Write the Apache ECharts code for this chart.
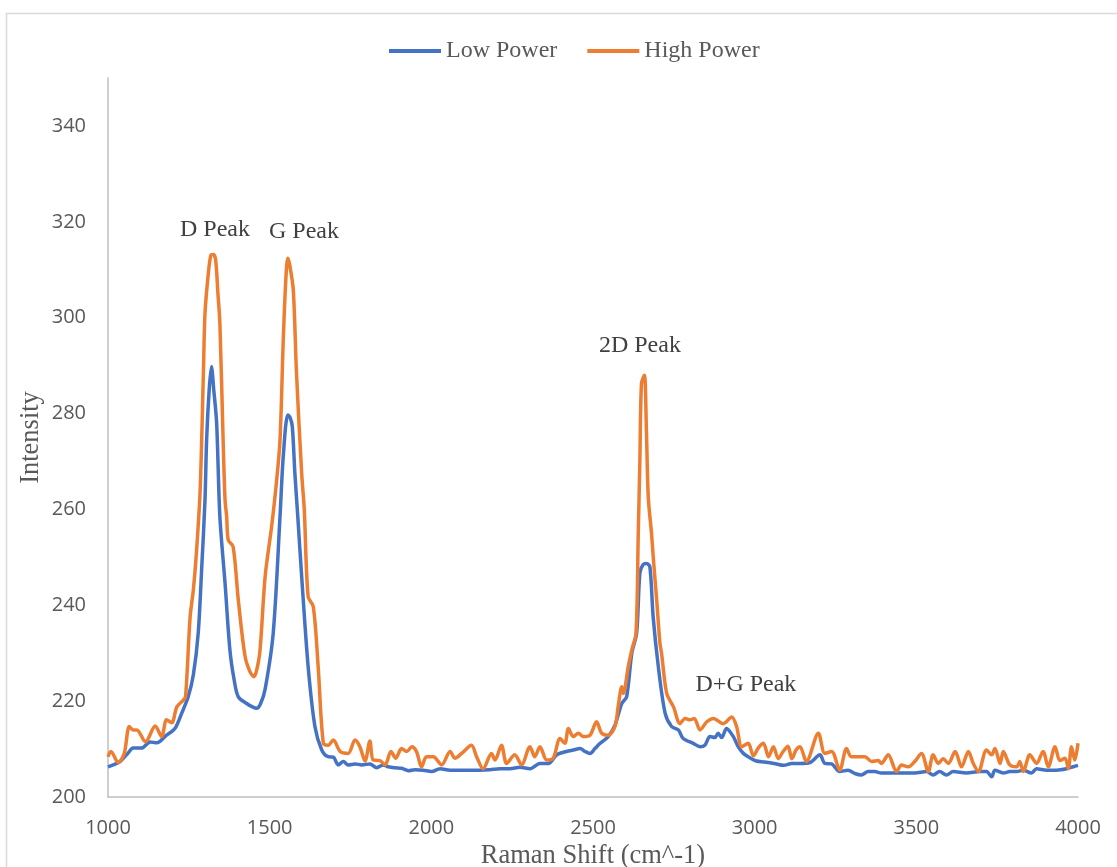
<!DOCTYPE html>
<html>
<head>
<meta charset="utf-8">
<title>Raman</title>
<script src="https://cdn.jsdelivr.net/npm/echarts@6/dist/echarts.min.js"></script>
<style>
  html, body { margin: 0; padding: 0; background: #fff; }
  #chart { width: 1117px; height: 867px; }
</style>
</head>
<body>
<div id="chart"></div>
<script>
// Low Power curve (Raman shift, intensity)
var lowShift = [
  1000, 1020, 1037, 1060, 1078, 1104, 1130, 1151, 1181, 1207,
  1228, 1248, 1264, 1279, 1290, 1300, 1305, 1313, 1320, 1327,
  1336, 1346, 1362, 1377, 1390, 1403, 1429, 1444, 1460, 1472,
  1486, 1511, 1532, 1542, 1556, 1563, 1570, 1578, 1587, 1599,
  1619, 1640, 1661, 1681, 1697, 1712, 1728, 1743, 1764, 1785,
  1810, 1831, 1851, 1867, 1888, 1908, 1929, 1949, 1975, 2001,
  2027, 2058, 2088, 2119, 2150, 2181, 2212, 2243, 2274, 2305,
  2336, 2362, 2388, 2418, 2439, 2460, 2475, 2491, 2506, 2522,
  2547, 2568, 2589, 2604, 2620, 2635, 2645, 2655, 2666, 2676,
  2686, 2702, 2723, 2743, 2764, 2779, 2810, 2831, 2846, 2862,
  2877, 2887, 2898, 2913, 2934, 2949, 2965, 2985, 3005, 3030,
  3060, 3090, 3115, 3140, 3171, 3202, 3217, 3238, 3263, 3289,
  3310, 3330, 3351, 3372, 3392, 3423, 3460, 3495, 3532, 3552,
  3572, 3593, 3614, 3655, 3696, 3717, 3733, 3743, 3769, 3789,
  3810, 3831, 3856, 3872, 3903, 3934, 3965, 3985, 4000
];
var lowIntensity = [
  206.3, 206.8, 207.4, 209.0, 210.2, 210.2, 211.5, 211.3, 212.9, 214.3,
  217.5, 220.9, 225.5, 234.2, 248.0, 262.0, 274.5, 285.0, 289.8, 285.0,
  278.0, 258.5, 244.6, 230.7, 224.5, 220.9, 219.5, 218.9, 218.5, 219.5,
  222.5, 234.2, 258.5, 271.0, 279.7, 279.2, 277.3, 267.5, 258.5, 246.0,
  227.2, 214.7, 209.8, 208.4, 208.3, 206.7, 207.4, 206.7, 206.9, 206.7,
  206.9, 206.1, 206.7, 206.3, 206.1, 206.0, 205.5, 205.7, 205.6, 205.3,
  205.9, 205.6, 205.6, 205.6, 205.6, 205.7, 205.9, 205.9, 206.2, 205.9,
  207.0, 207.0, 208.8, 209.5, 209.8, 210.1, 209.5, 209.1, 210.1, 211.2,
  212.6, 215.0, 219.5, 220.9, 230.0, 234.2, 246.7, 248.5, 248.7, 248.0,
  237.6, 227.2, 217.5, 214.7, 214.0, 212.2, 211.2, 210.5, 210.8, 212.6,
  212.4, 213.3, 212.4, 214.3, 212.6, 210.5, 209.1, 208.2, 207.5, 207.3,
  207.0, 206.6, 207.0, 207.0, 207.2, 208.8, 207.0, 206.9, 205.3, 205.6,
  204.9, 204.6, 205.3, 205.3, 205.0, 205.0, 205.0, 205.0, 205.3, 204.6,
  205.3, 204.6, 205.3, 205.0, 205.3, 205.3, 204.2, 205.6, 205.0, 205.3,
  205.3, 205.6, 205.0, 205.9, 205.6, 205.6, 205.9, 206.3, 206.6
];

// High Power curve
var highShift = [
  1000, 1009, 1032, 1050, 1066, 1078, 1089, 1116, 1146, 1166,
  1181, 1197, 1213, 1233, 1240, 1254, 1264, 1274, 1285, 1295,
  1300, 1310, 1318, 1326, 1333, 1340, 1346, 1356, 1362, 1367,
  1372, 1387, 1403, 1424, 1440, 1452, 1460, 1470, 1486, 1506,
  1520, 1532, 1542, 1550, 1556, 1562, 1573, 1583, 1599, 1607,
  1619, 1635, 1650, 1666, 1681, 1697, 1718, 1743, 1764, 1779,
  1795, 1810, 1820, 1841, 1857, 1875, 1890, 1908, 1924, 1940,
  1954, 1970, 1985, 2006, 2032, 2058, 2073, 2094, 2124, 2140,
  2160, 2186, 2197, 2217, 2233, 2258, 2279, 2305, 2320, 2336,
  2357, 2377, 2398, 2413, 2424, 2439, 2455, 2470, 2491, 2511,
  2527, 2547, 2568, 2578, 2589, 2594, 2609, 2620, 2633, 2640,
  2645, 2650, 2659, 2665, 2671, 2681, 2687, 2697, 2707, 2712,
  2728, 2749, 2769, 2785, 2800, 2813, 2831, 2852, 2872, 2903,
  2929, 2944, 2960, 2980, 2996, 3012, 3027, 3043, 3058, 3073,
  3088, 3103, 3115, 3128, 3140,
  3160, 3197, 3217, 3238, 3263, 3284, 3299, 3320, 3341, 3362,
  3382, 3392, 3413, 3439, 3454, 3475, 3495, 3516, 3537, 3552,
  3568, 3583, 3599, 3620, 3640, 3661, 3676, 3692, 3717, 3733,
  3743, 3759, 3769, 3789, 3810, 3820, 3831, 3851, 3872, 3892,
  3908, 3929, 3944, 3960, 3970, 3980, 3990, 4000
];
var highIntensity = [
  208.4, 209.5, 207.2, 209.0, 214.7, 214.0, 214.0, 211.5, 214.8, 212.6,
  216.1, 215.5, 218.8, 220.2, 221.0, 237.6, 243.2, 251.5, 264.0, 288.4,
  300.9, 309.0, 313.0, 313.2, 312.0, 305.0, 298.9, 274.5, 262.0, 258.5,
  253.6, 252.2, 241.1, 229.3, 226.0, 225.1, 226.5, 230.5, 246.0, 256.4,
  265.0, 274.5, 295.3, 308.0, 312.4, 311.0, 305.8, 288.4, 267.5, 260.0,
  241.8, 239.7, 227.2, 211.2, 210.8, 211.9, 209.5, 209.1, 211.9, 210.5,
  207.5, 211.7, 207.7, 207.6, 206.7, 209.5, 208.1, 210.1, 209.5, 210.5,
  209.5, 206.3, 208.4, 208.4, 206.7, 209.5, 208.1, 209.1, 210.8, 208.4,
  205.9, 209.1, 207.7, 210.8, 207.0, 208.8, 206.7, 210.5, 208.4, 210.5,
  207.7, 208.1, 212.2, 211.2, 214.3, 212.6, 213.3, 212.6, 212.9, 215.7,
  213.3, 212.9, 214.7, 219.0, 223.0, 221.6, 227.2, 230.7, 234.2, 255.0,
  270.3, 286.3, 288.0, 277.0, 262.5, 255.0, 249.4, 241.1, 232.1, 230.0,
  221.6, 218.8, 215.3, 216.4, 216.1, 216.4, 214.0, 215.7, 216.4, 215.3,
  216.7, 214.7, 210.5, 211.2, 208.6, 210.3, 211.2, 208.4, 210.5, 208.0,
  209.5, 210.6, 208.0, 209.8, 210.5,
  207.4, 213.3, 209.1, 209.5, 205.6, 210.1, 208.4, 208.4, 208.4, 207.4,
  207.6, 207.0, 208.8, 205.3, 206.7, 206.3, 207.4, 209.1, 205.3, 208.8,
  207.0, 208.0, 207.0, 209.5, 206.3, 209.5, 207.0, 205.3, 209.8, 208.8,
  210.1, 207.0, 209.5, 206.7, 206.3, 207.4, 205.3, 208.8, 207.0, 209.5,
  206.3, 210.5, 207.6, 208.1, 205.9, 210.5, 207.7, 211.2
];

// peak labels, placed in data units
var peakNames = ['D Peak', 'G Peak', '2D Peak', 'D+G Peak'];
var peakShift = [1331, 1606, 2645, 2973];
var peakLevel = [318.3, 317.9, 294.1, 223.4];

function zip(xs, ys) {
  var out = [];
  for (var i = 0; i < xs.length; i++) out.push([xs[i], ys[i]]);
  return out;
}

var peakMarks = peakNames.map(function (n, i) {
  return { name: n, coord: [peakShift[i], peakLevel[i]] };
});

var serif = '"Liberation Serif", "Times New Roman", serif';
var sans = '"Open Sans", sans-serif';
var chart = echarts.init(document.getElementById('chart'));

chart.setOption({
  backgroundColor: '#fff',
  animation: false,
  graphic: [{
    type: 'rect',
    left: 4, top: 11,
    shape: { width: 1200, height: 900 },
    style: { fill: 'none', stroke: '#d9d9d9', lineWidth: 1.5 },
    silent: true
  }],
  legend: {
    top: 34,
    left: 384,
    icon: 'rect',
    itemWidth: 52,
    itemHeight: 4,
    itemGap: 30,
    textStyle: { fontFamily: serif, fontSize: 24, color: '#595959' },
    data: ['Low Power', 'High Power']
  },
  grid: { left: 108, right: 39, top: 78, bottom: 70, outerBoundsMode: 'none' },
  xAxis: {
    type: 'value',
    min: 1000, max: 4000, interval: 500,
    name: 'Raman Shift (cm^-1)',
    nameLocation: 'middle',
    nameGap: 45,
    nameTextStyle: { fontFamily: serif, fontSize: 26.5, color: '#595959' },
    axisLine: { lineStyle: { color: '#bfbfbf', width: 1.5 } },
    axisTick: { show: false },
    splitLine: { show: false },
    axisLabel: {
      fontFamily: sans, fontSize: 20, color: '#595959', margin: 21,
      formatter: function (v) { return String(v); }
    }
  },
  yAxis: {
    type: 'value',
    min: 200, max: 350, interval: 20,
    name: 'Intensity',
    nameLocation: 'middle',
    nameGap: 63,
    nameMoveOverlap: false,
    nameTextStyle: { fontFamily: serif, fontSize: 26.5, color: '#595959' },
    axisLine: { show: true, lineStyle: { color: '#bfbfbf', width: 1.5 } },
    axisTick: { show: false },
    splitLine: { show: false },
    axisLabel: {
      fontFamily: sans, fontSize: 20, color: '#595959',
      margin: 22, showMaxLabel: false
    }
  },
  series: [
    {
      name: 'Low Power',
      type: 'line',
      data: zip(lowShift, lowIntensity),
      smooth: 0.3,
      symbol: 'none',
      color: '#4472c4',
      lineStyle: { width: 3.5, color: '#4472c4' }
    },
    {
      name: 'High Power',
      type: 'line',
      data: zip(highShift, highIntensity),
      smooth: 0.3,
      symbol: 'none',
      color: '#ed7d31',
      lineStyle: { width: 3.5, color: '#ed7d31' },
      markPoint: {
        symbol: 'circle',
        symbolSize: 1,
        itemStyle: { color: 'rgba(0,0,0,0)' },
        label: {
          show: true,
          position: 'inside',
          formatter: '{b}',
          fontFamily: serif,
          fontSize: 24,
          color: '#404040'
        },
        data: peakMarks
      }
    }
  ]
});
</script>
</body>
</html>
